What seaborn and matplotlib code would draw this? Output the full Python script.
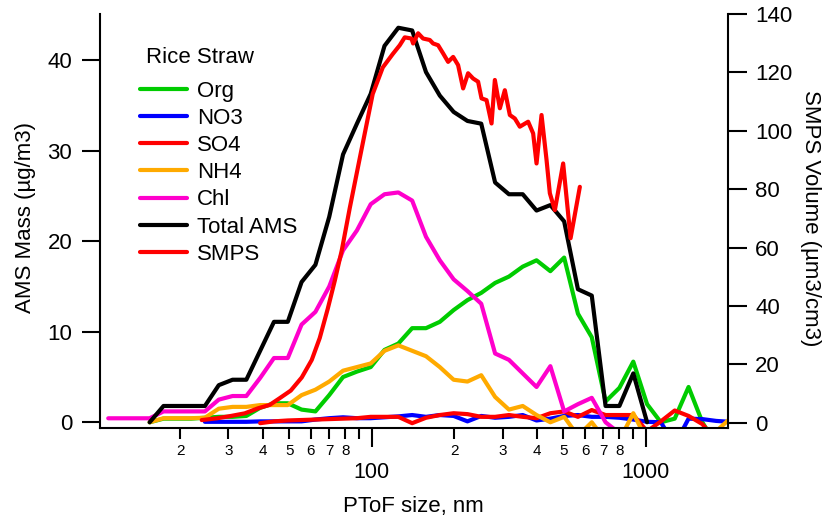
import numpy as np
import pandas as pd
import matplotlib
matplotlib.use("Agg")
import matplotlib.pyplot as plt
import seaborn as sns
from matplotlib.lines import Line2D

sns.set_theme(style="ticks", rc={
    "axes.edgecolor": "black",
    "xtick.color": "black",
    "ytick.color": "black",
    "text.color": "black",
    "axes.labelcolor": "black",
})
plt.rcParams["font.family"] = ["Liberation Sans", "DejaVu Sans"]

nan = np.nan

# AMS particle time-of-flight size bins (nm)
ams_size = [10.93, 12.28, 13.79, 15.48, 17.39, 19.52, 21.93, 24.62, 27.66, 31.06,
            34.87, 39.16, 43.98, 49.39, 55.46, 62.29, 69.95, 78.56, 88.28, 99.13,
            111.3, 125.0, 140.4, 157.7, 177.1, 198.9, 223.4, 250.8, 281.8, 316.5,
            355.4, 399.1, 448.2, 503.3, 565.1, 634.7, 712.7, 800.4, 899.5, 1010,
            1134, 1274, 1431, 1607, 1804, 2026]

# Mass size distributions (ug/m3)
org = [nan, nan, nan, 0.0, 0.4, 0.4, 0.4, 0.5, 0.6, 0.6,
       0.7, 1.6, 2.1, 2.1, 1.4, 1.2, 3.0, 5.0, 5.6, 6.1,
       8.0, 8.7, 10.4, 10.4, 11.1, 12.4, 13.5, 14.3, 15.4, 16.1,
       17.2, 17.9, 16.7, 18.2, 12.0, 9.4, 2.3, 3.8, 6.7, 2.0,
       0.0, 0.4, 3.9, 0.0, -2.5, nan]
no3 = [nan, nan, nan, nan, nan, nan, nan, 0.05, 0.05, 0.05,
       0.05, 0.1, 0.1, 0.1, 0.1, 0.3, 0.45, 0.55, 0.45, 0.45,
       0.55, 0.65, 0.8, 0.6, 0.8, 0.7, 0.1, 0.7, 0.5, 0.6,
       0.8, 0.2, 0.4, 0.7, 0.8, 0.6, 0.6, 0.5, 0.3, 0.05,
       0.0, -2.5, 0.4, 0.35, 0.15, 0.05]
so4 = [nan, nan, nan, nan, nan, nan, nan, nan, nan, nan,
       nan, -0.1, 0.1, 0.2, 0.25, 0.3, 0.35, 0.4, 0.45, 0.6,
       0.6, 0.6, -0.1, 0.5, 0.8, 1.0, 0.9, 0.6, 0.6, 0.8,
       0.6, 0.45, 1.0, 1.2, 0.6, 1.35, 0.8, 0.8, 0.8, -1.0,
       0.1, 1.3, 0.7, -0.2, -2.0, nan]
nh4 = [nan, nan, nan, 0.0, 0.45, 0.45, 0.45, 0.5, 1.5, 1.7,
       1.7, 1.9, 1.9, 1.9, 3.0, 3.6, 4.5, 5.7, 6.1, 6.5,
       7.9, 8.5, 7.9, 7.3, 6.1, 4.7, 4.5, 5.2, 2.8, 1.4,
       1.8, 0.8, 0.0, 0.6, -1.5, 0.0, -2.0, -2.0, 1.0, -2.0,
       -2.0, -2.0, -2.0, -2.0, -1.0, 0.4]
chl = [0.44, 0.44, 0.44, 0.44, 1.2, 1.2, 1.2, 1.2, 2.5, 2.9,
       2.9, 4.9, 7.1, 7.1, 10.8, 12.2, 15.0, 19.0, 21.2, 24.1,
       25.2, 25.4, 24.5, 20.5, 17.9, 15.8, 14.5, 13.1, 7.6, 6.9,
       5.4, 3.9, 6.2, 1.2, 2.0, 2.7, 0.0, -1.2, nan, nan,
       nan, nan, nan, nan, nan, nan]
total_ams = [nan, nan, nan, 0.0, 1.8, 1.8, 1.8, 1.8, 4.1, 4.7,
             4.7, 7.9, 11.1, 11.1, 15.5, 17.4, 22.7, 29.6, 33.0, 36.3,
             41.6, 43.6, 43.3, 38.7, 36.1, 34.3, 33.3, 33.0, 26.5, 25.2,
             25.2, 23.4, 24.0, 22.2, 14.7, 14.0, 1.8, 1.8, 5.4, 0.0,
             nan, nan, nan, nan, nan, nan]

# SMPS volume size distribution (um3/cm3)
smps_size = [23.97, 27.19, 30.58, 34.40, 38.37, 42.43, 46.15, 50.63, 55.54, 60.40,
             64.59, 69.08, 73.28, 77.71, 83.11, 91.93, 100.8, 109.7, 119.3, 126.5,
             131.9, 139.6, 141.5, 147.6, 153.9, 162.8, 167.4, 174.6, 182.1, 189.9,
             198.1, 206.5, 215.4, 224.6, 234.3, 244.3, 251.4, 262.2, 273.5, 281.2,
             293.3, 305.8, 318.9, 332.6, 346.8, 371.9, 387.9, 399.1, 416.2, 434.1,
             446.3, 465.5, 499.1, 531.2, 574.2]
smps_volume = [0.9, 1.5, 2.3, 3.2, 4.9, 6.1, 8.4, 11.0, 15.5, 21.5,
               29.0, 39.0, 48.6, 59.0, 73.5, 94.0, 112.6, 121.7, 126.3, 129.3,
               132.0, 131.6, 129.9, 133.4, 131.6, 131.1, 129.9, 129.3, 126.5, 123.6,
               125.3, 122.5, 114.5, 119.7, 117.9, 116.8, 111.1, 110.5, 102.5, 117.4,
               107.7, 113.9, 105.4, 104.2, 101.4, 103.1, 99.1, 88.8, 105.4, 90.0,
               78.6, 72.8, 88.8, 63.2, 80.8]

species = ["Org", "NO3", "SO4", "NH4", "Chl", "Total AMS"]
palette = {"Org": "#00CC00", "NO3": "#0000FF", "SO4": "#FF0000",
           "NH4": "#FFAA00", "Chl": "#FF00CC", "Total AMS": "#000000"}
smps_color = "#FF0000"

ams = pd.concat(
    [pd.DataFrame({"size": ams_size, "mass": vals, "species": name})
     for name, vals in zip(species, [org, no3, so4, nh4, chl, total_ams])]
).dropna()
smps = pd.DataFrame({"size": smps_size, "volume": smps_volume})

fig = plt.figure(figsize=(8.28, 5.17), dpi=100)
ax = fig.add_axes([0.12077, 0.17273, 0.75809, 0.80019])

line_kw = dict(linewidth=3, solid_capstyle="round", solid_joinstyle="round")
sns.lineplot(data=ams, x="size", y="mass", hue="species", hue_order=species,
             palette=palette, estimator=None, sort=False, legend=False, ax=ax, **line_kw)

ax2 = ax.twinx()
sns.lineplot(data=smps, x="size", y="volume", color=smps_color,
             estimator=None, sort=False, ax=ax2, **line_kw)

ax.set_xscale("log")
ax.set_xlim(10.2, 1988)
ax.set_ylim(-0.6, 45.12)
ax2.set_ylim(-1.71, 140)

# spines
for s in ["top", "right"]:
    ax.spines[s].set_visible(False)
for s in ["top", "left", "bottom"]:
    ax2.spines[s].set_visible(False)
for s in ["left", "bottom"]:
    ax.spines[s].set_linewidth(1.5)
ax2.spines["right"].set_linewidth(1.5)

# ticks
ax.set_yticks([0, 10, 20, 30, 40])
ax2.set_yticks([0, 20, 40, 60, 80, 100, 120, 140])
ax.set_xticks([100, 1000])
ax.set_xticklabels(["100", "1000"])
minor_ticks = [20, 30, 40, 50, 60, 70, 80, 90, 200, 300, 400, 500, 600, 700, 800, 900]
minor_labels = ["2", "3", "4", "5", "6", "7", "8", "", "2", "3", "4", "5", "6", "7", "8", ""]
ax.set_xticks(minor_ticks, minor=True)
ax.set_xticklabels(minor_labels, minor=True)

ax.tick_params(axis="y", which="major", direction="out", length=13, width=1.5,
               pad=7, labelsize=16)
ax2.tick_params(axis="y", which="major", direction="out", length=13.7, width=1.5,
                pad=6, labelsize=16)
ax.tick_params(axis="x", which="major", direction="out", length=13.7, width=1.5,
               pad=11, labelsize=15.5)
ax.tick_params(axis="x", which="minor", direction="out", length=8, width=1.5,
               pad=4, labelsize=11)

# axis labels
ax.set_xlabel("PToF size, nm", fontsize=16, va="baseline")
ax.xaxis.set_label_coords(0.5, -0.2026)
ax.set_ylabel("AMS Mass (µg/m3)", fontsize=16, va="center")
ax.yaxis.set_label_coords(-0.1179, 0.508)
ax2.set_ylabel("SMPS Volume (µm3/cm3)", fontsize=16, rotation=270, va="center")
ax2.yaxis.set_label_coords(1.1324, 0.506)

# legend
handles = [Line2D([], [], color=palette[n], **line_kw) for n in species]
handles.append(Line2D([], [], color=smps_color, **line_kw))
labels = species + ["SMPS"]
ax2.legend(handles, labels, loc="upper left", bbox_to_anchor=(140 / 828, 1 - 80.5 / 517),
           bbox_transform=fig.transFigure, frameon=False, fontsize=16,
           handlelength=2.1, handletextpad=0.45, labelspacing=0.28,
           borderpad=0, borderaxespad=0)
fig.text(146.5 / 828, 1 - 62.8 / 517, "Rice Straw", fontsize=16, ha="left", va="baseline")

fig.savefig("out.png", dpi=100)
